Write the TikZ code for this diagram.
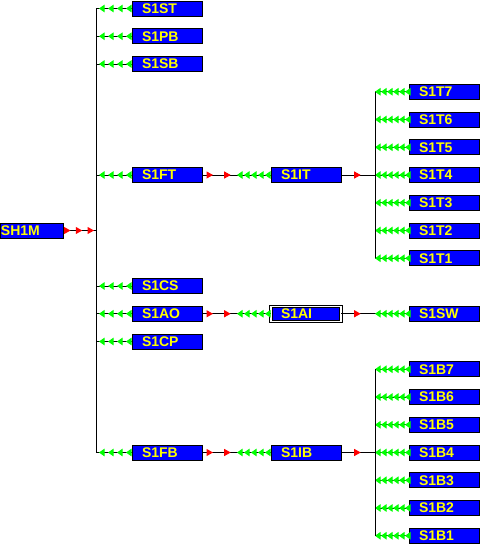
\documentclass[tikz,border=0pt]{standalone}
\usepackage{fontspec}
\setmainfont{Liberation Sans}
\usetikzlibrary{arrows.meta,decorations.markings}
\definecolor{boxblue}{RGB}{0,0,255}
\definecolor{boxtext}{RGB}{255,255,0}
\definecolor{tipred}{RGB}{255,0,0}
\definecolor{tipgreen}{RGB}{0,255,0}
\tikzset{
  rtip/.tip={Triangle[tipred,length=6.5pt,width=7pt]},
  gtip/.tip={Triangle[tipgreen,length=5.5pt,width=7.5pt]}
}

\begin{document}
\begin{tikzpicture}[x=1pt,y=-1pt,line width=1pt,
  unit/.style={draw=black,fill=boxblue,text=boxtext,
    font=\bfseries\fontsize{14}{14}\selectfont,minimum width=70pt,
    minimum height=15pt,inner ysep=0pt,inner xsep=10pt,text width=50pt,
    align=left,outer sep=0pt},
  reds/.style n args={3}{postaction={decorate,decoration={markings,
    mark=between positions #1 and #2 step #3 with {\arrow{rtip}}}}},
  greens/.style n args={3}{postaction={decorate,decoration={markings,
    mark=between positions #1 and #2 step #3 with {\arrow{gtip}}}}},
  greensback/.style n args={3}{postaction={decorate,decoration={markings,
    mark=between positions #1 and #2 step #3 with {\arrowreversed{gtip}}}}}]
  \useasboundingbox (0,0) rectangle (480,544);
  % main feeder
  \node[unit,minimum width=63pt,text width=61pt,inner xsep=1pt] (SH1M) at (31.5,230.5) {SH1M};
  \coordinate (bus-SH1M) at (96,230.5);
  % first level
  \foreach \n/\r in {S1ST/0,S1PB/1,S1SB/2,S1FT/6,S1CS/10,S1AO/11,S1CP/12,S1FB/16} {
    \node[unit] (\n) at (167,{8.5+27.75*\r}) {\n};
    \coordinate (bus-\n) at (96,{8.5+27.75*\r});
    \draw[greens={6pt}{33.5pt}{9pt}] (\n.west) -- (bus-\n);
  }
  \draw (bus-S1ST) -- (bus-S1FB);
  \draw[reds={7.5pt}{31.5pt}{11.75pt}] (SH1M.east) -- (bus-SH1M);
  % second level
  \node[unit] (S1IT) at (306,{8.5+27.75*6}) {S1IT};
  \node[unit,double=white,double distance=1.2pt] (S1AI) at (306,{8.5+27.75*11}) {S1AI};
  \node[unit] (S1IB) at (306,{8.5+27.75*16}) {S1IB};
  \foreach \a/\b in {S1FT/S1IT,S1AO/S1AI,S1FB/S1IB}
    \draw[reds={11pt}{29pt}{17.7pt},greensback={35pt}{63.5pt}{7pt}] (\a.east) -- (\b.west);
  % third level
  \foreach \n/\r in {S1T7/3,S1T6/4,S1T5/5,S1T4/6,S1T3/7,S1T2/8,S1T1/9,
                     S1B7/13,S1B6/14,S1B5/15,S1B4/16,S1B3/17,S1B2/18,S1B1/19} {
    \node[unit] (\n) at (444,{8.5+27.75*\r}) {\n};
    \coordinate (tap-\n) at (375,{8.5+27.75*\r});
    \draw[greens={4pt}{34.2pt}{6pt}] (\n.west) -- (tap-\n);
  }
  \node[unit] (S1SW) at (444,{8.5+27.75*11}) {S1SW};
  \draw (tap-S1T7) -- (tap-S1T1);
  \draw (tap-S1B7) -- (tap-S1B1);
  \draw[reds={19.7pt}{20pt}{5pt}] (S1IT.east) -- (tap-S1T4);
  \draw[reds={19.7pt}{20pt}{5pt}] (S1IB.east) -- (tap-S1B4);
  \draw[reds={19.7pt}{20pt}{5pt},greensback={34pt}{64.2pt}{6pt}] (S1AI.east) -- (S1SW.west);
\end{tikzpicture}
\end{document}
